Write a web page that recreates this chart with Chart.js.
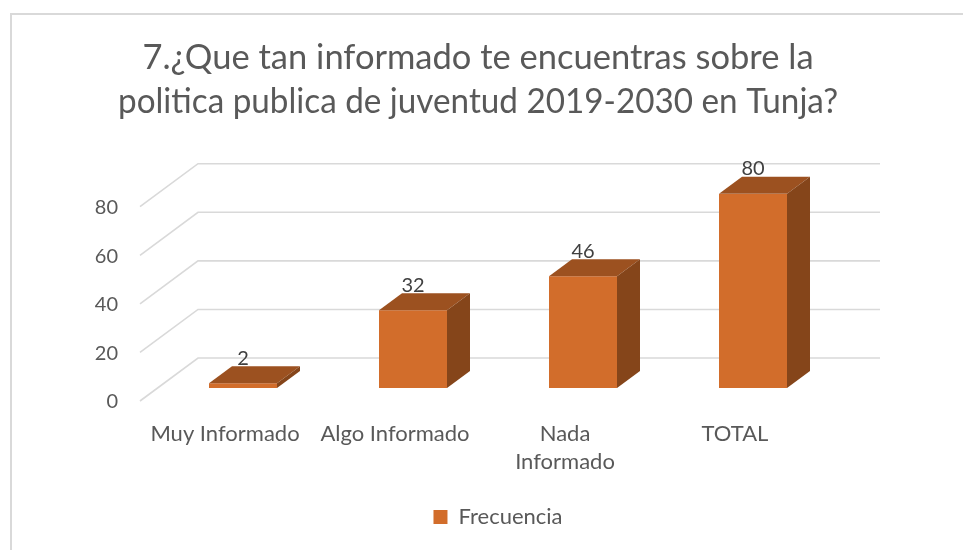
<!DOCTYPE html>
<html>
<head>
<meta charset="utf-8">
<script src="https://cdn.jsdelivr.net/npm/chart.js@4"></script>
<style>
  html, body { margin: 0; padding: 0; background: #fff; }
  #wrap { width: 963px; height: 550px; }
</style>
</head>
<body>
<div id="wrap"><canvas id="chart" width="963" height="550"></canvas></div>
<script>
const categories = ['Muy Informado', 'Algo Informado', ['Nada', 'Informado'], 'TOTAL'];
const frecuencia = [2, 32, 46, 80];
const yTicks = [0, 20, 40, 60, 80];

const FRONT = '#D26D2B', TOP = '#9C5120', SIDE = '#85451A';
const GRAY = '#595959';
const DX = 23, DY = -17;

const box3d = {
  id: 'box3d',
  afterLayout(chart) {
    // title and legend are centred on the plot, not on the whole canvas
    chart.titleBlock.left = 118;
    chart.titleBlock.right = 838;
    chart.legend.left = 158;
    chart.legend.right = 838;
  },
  beforeDraw(chart) {
    const ctx = chart.ctx;
    ctx.save();
    ctx.fillStyle = '#fff';
    ctx.fillRect(0, 0, chart.width, chart.height);
    ctx.strokeStyle = '#d9d9d9';
    ctx.lineWidth = 2;
    ctx.strokeRect(11, 14, 1000, 600);
    ctx.restore();
  },
  beforeDatasetsDraw(chart) {
    const { ctx, chartArea } = chart;
    const y = chart.scales.y;
    const backL = chartArea.left + 40, backR = chartArea.right + 42, frontL = chartArea.left - 18;
    ctx.save();
    ctx.strokeStyle = '#d9d9d9';
    ctx.lineWidth = 1.6;
    y.ticks.forEach(t => {
      const yb = y.getPixelForValue(t.value) - 30;
      ctx.beginPath();
      ctx.moveTo(backR, yb);
      ctx.lineTo(backL, yb);
      ctx.lineTo(frontL, yb + 43);
      ctx.stroke();
    });
    ctx.restore();
  },
  afterDatasetsDraw(chart) {
    const ctx = chart.ctx;
    const meta = chart.getDatasetMeta(0);
    ctx.save();
    meta.data.forEach((bar, i) => {
      const { x, y, base, width } = bar.getProps(['x', 'y', 'base', 'width'], true);
      const l = x - width / 2, r = x + width / 2;
      ctx.fillStyle = TOP;
      ctx.beginPath();
      ctx.moveTo(l, y); ctx.lineTo(r, y); ctx.lineTo(r + DX, y + DY); ctx.lineTo(l + DX, y + DY);
      ctx.closePath(); ctx.fill();
      ctx.fillStyle = SIDE;
      ctx.beginPath();
      ctx.moveTo(r, y); ctx.lineTo(r + DX, y + DY); ctx.lineTo(r + DX, base + DY); ctx.lineTo(r, base);
      ctx.closePath(); ctx.fill();
      ctx.fillStyle = '#404040';
      ctx.font = '20px Lato';
      ctx.textAlign = 'center';
      ctx.textBaseline = 'middle';
      ctx.fillText(String(frecuencia[i]), x, y + DY - 8);
    });
    ctx.restore();
  }
};

new Chart(document.getElementById('chart'), {
  type: 'bar',
  data: {
    labels: categories,
    datasets: [{
      label: 'Frecuencia',
      data: frecuencia,
      backgroundColor: FRONT,
      borderWidth: 0,
      categoryPercentage: 1,
      barPercentage: 0.4
    }]
  },
  options: {
    responsive: false,
    animation: false,
    layout: { padding: { left: 0, right: 125, top: 0, bottom: 12 } },
    scales: {
      x: {
        grid: { display: false, drawTicks: false },
        border: { display: false },
        ticks: {
          color: GRAY, font: { family: 'Lato', size: 22, lineHeight: 1.27 },
          padding: 32, labelOffset: -18, maxRotation: 0, autoSkip: false
        },
        afterFit: s => { s.height = 108; }
      },
      y: {
        min: 0, max: 80,
        afterBuildTicks: s => { s.ticks = yTicks.map(v => ({ value: v })); },
        grid: { display: false, drawTicks: false },
        border: { display: false },
        ticks: {
          color: GRAY, font: { family: 'Lato', size: 20 },
          padding: 40, labelOffset: 14
        },
        afterFit: s => { s.width = 158; }
      }
    },
    plugins: {
      title: {
        display: true,
        text: ['7.¿Que tan informado te encuentras sobre la', 'politica publica de juventud 2019-2030 en Tunja?'],
        color: GRAY,
        font: { family: 'Lato', size: 34.5, weight: 'normal', lineHeight: 1.3 },
        padding: { top: 35, bottom: 69 }
      },
      legend: {
        position: 'bottom',
        labels: {
          color: GRAY, font: { family: 'Lato', size: 22 },
          boxWidth: 14, boxHeight: 14, padding: 10
        }
      },
      tooltip: { enabled: false }
    }
  },
  plugins: [box3d]
});
</script>
</body>
</html>
